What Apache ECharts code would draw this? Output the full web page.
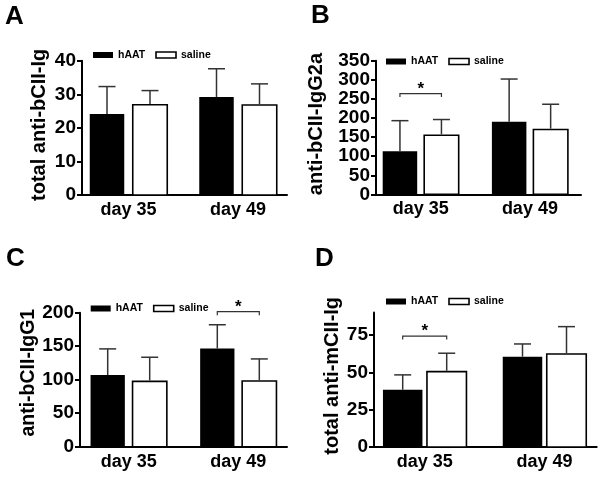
<!DOCTYPE html>
<html>
<head>
<meta charset="utf-8">
<script src="https://cdn.jsdelivr.net/npm/echarts@6/dist/echarts.min.js"></script>
<style>html,body{margin:0;padding:0;background:#fff}#c{width:600px;height:477px}</style>
</head>
<body>
<div id="c"></div>
<script>
// ---------- data ----------
const categories = ['day 35', 'day 49'];
const seriesNames = ['hAAT', 'saline'];
const panelLetters = ['A', 'B', 'C', 'D'];
const yTitles = ['total anti-bCII-Ig', 'anti-bCII-IgG2a', 'anti-bCII-IgG1', 'total anti-mCII-Ig'];

const yTicksA = [0, 10, 20, 30, 40];
const yTicksB = [0, 50, 100, 150, 200, 250, 300, 350];
const yTicksC = [0, 50, 100, 150, 200];
const yTicksD = [0, 25, 50, 75];
const yMax = [40, 350, 200, 90];

const hAAT_A = [24.1, 29.2],  hAAT_A_sd = [8.2, 8.4];
const saline_A = [26.9, 26.8], saline_A_sd = [4.2, 6.3];
const hAAT_B = [113, 190],    hAAT_B_sd = [80, 112];
const saline_B = [155, 170],  saline_B_sd = [41, 66];
const hAAT_C = [107, 146.5],  hAAT_C_sd = [39, 35.5];
const saline_C = [97.5, 98],  saline_C_sd = [36, 33];
const hAAT_D = [38.3, 60.5],  hAAT_D_sd = [10, 8.5];
const saline_D = [50.5, 62.3], saline_D_sd = [12.3, 18.3];

// significance brackets
const sigPanel = [1, 2, 3];            // B, C, D
const sigCategory = ['day 35', 'day 49', 'day 35'];
const sigLevel = [264, 201.5, 74.3];
const sigLabel = ['*', '*', '*'];

// ---------- layout / style ----------
const FONT = 'Liberation Sans, Arial, Helvetica, sans-serif';
const yTicks = [yTicksA, yTicksB, yTicksC, yTicksD];
const means = [[hAAT_A, saline_A], [hAAT_B, saline_B], [hAAT_C, saline_C], [hAAT_D, saline_D]];
const sds = [[hAAT_A_sd, saline_A_sd], [hAAT_B_sd, saline_B_sd], [hAAT_C_sd, saline_C_sd], [hAAT_D_sd, saline_D_sd]];

const panels = [
  {grid: {left: 82, top: 60.7, width: 205, height: 134.3}, xmin: 0.5753, xmax: 2.4475, barW: 34.5, gap: 8.5, capW: 17, nameGap: 33, nameSize: 20, nameShift: 6, legend: {left: 93, top: 49.5}, letter: {left: 5, top: 4}},
  {grid: {left: 376, top: 60.7, width: 205, height: 133.7}, xmin: 0.5907, xmax: 2.468, barW: 34.5, gap: 7, capW: 17, nameGap: 50, nameSize: 20, nameShift: 7, legend: {left: 386, top: 56}, letter: {left: 311, top: 3}},
  {grid: {left: 80, top: 312.7, width: 207, height: 134}, xmin: 0.5557, xmax: 2.4443, barW: 34.3, gap: 7.7, capW: 17, nameGap: 39, nameSize: 19.5, nameShift: 14, legend: {left: 90.7, top: 303}, letter: {left: 6, top: 246}},
  {grid: {left: 374, top: 312.6, width: 222.7, height: 134.4}, xmin: 0.5768, xmax: 2.4357, barW: 39.5, gap: 4.5, capW: 17, nameGap: 29, nameSize: 20, nameShift: 8, legend: {left: 386, top: 296}, letter: {left: 315, top: 246}}
];
const barColors = [{color: '#000'}, {color: '#fff', borderColor: '#000', borderWidth: 1.6}];
const ERR = '#333';

const option = {
  animation: false,
  backgroundColor: '#fff',
  textStyle: {fontFamily: FONT},
  title: panels.map((p, i) => ({
    text: panelLetters[i], left: p.letter.left, top: p.letter.top, padding: 0,
    textStyle: {fontSize: 26, fontWeight: 'bold', color: '#000', fontFamily: FONT}
  })),
  legend: panels.map((p, i) => ({
    left: p.legend.left, top: p.legend.top, padding: 0, itemGap: 10,
    itemWidth: 20, itemHeight: 6, icon: 'rect', selectedMode: false,
    textStyle: {fontSize: 10.5, fontWeight: 'bold', color: '#000', fontFamily: FONT},
    data: seriesNames.map((n, g) => ({name: n, itemStyle: barColors[g]}))
  })),
  grid: panels.map(p => Object.assign({containLabel: false}, p.grid)),
  xAxis: panels.map((p, i) => ({
    type: 'value', gridIndex: i, min: p.xmin, max: p.xmax,
    axisLine: {show: true, lineStyle: {color: '#000', width: 2}},
    axisTick: {show: false}, splitLine: {show: false},
    axisLabel: {
      customValues: categories.map((c, k) => k + 1),
      formatter: v => categories[Math.round(v) - 1] || '',
      fontSize: 18, fontWeight: 'bold', color: '#000', margin: 6, fontFamily: FONT
    }
  })),
  yAxis: panels.map((p, i) => ({
    type: 'value', gridIndex: i, min: 0, max: yMax[i],
    name: yTitles[i], nameLocation: 'middle', nameGap: p.nameGap, nameRotate: 90,
    nameTextStyle: {fontSize: p.nameSize, fontWeight: 'bold', color: '#000', fontFamily: FONT, padding: [0, 0, 0, p.nameShift]},
    axisLine: {show: true, lineStyle: {color: '#000', width: 2}},
    axisTick: {show: true, inside: false, length: 5, lineStyle: {color: '#000', width: 2}, customValues: yTicks[i]},
    axisLabel: {customValues: yTicks[i], fontSize: 19, fontWeight: 'bold', color: '#000', margin: 6, fontFamily: FONT},
    splitLine: {show: false}
  })),
  series: []
};

panels.forEach((p, pi) => {
  [0, 1].forEach(g => {
    const off = (g === 0 ? -1 : 1) * (p.barW + p.gap) / 2;
    option.series.push({
      type: 'custom', name: seriesNames[g], xAxisIndex: pi, yAxisIndex: pi, silent: true, z: 2,
      itemStyle: barColors[g],
      encode: {x: 0, y: 1},
      data: means[pi][g].map((v, k) => [k + 1, v]),
      renderItem: (params, api) => {
        const top = api.coord([api.value(0), api.value(1)]);
        const base = api.coord([api.value(0), 0]);
        const cx = top[0] + off;
        return {type: 'rect', shape: {x: cx - p.barW / 2, y: top[1], width: p.barW, height: base[1] - top[1]}, style: api.style()};
      }
    });
    option.series.push({
      type: 'custom', xAxisIndex: pi, yAxisIndex: pi, silent: true, z: 3,
      encode: {x: 0, y: 1},
      data: means[pi][g].map((v, k) => [k + 1, v, sds[pi][g][k]]),
      renderItem: (params, api) => {
        const x = api.value(0), m = api.value(1), s = api.value(2);
        const a = api.coord([x, m]);
        const b = api.coord([x, m + s]);
        const cx = a[0] + off;
        const ls = {stroke: ERR, lineWidth: 1.5};
        return {type: 'group', children: [
          {type: 'line', shape: {x1: cx, y1: a[1] - (g === 1 ? 0.8 : 0), x2: cx, y2: b[1]}, style: ls},
          {type: 'line', shape: {x1: cx - p.capW / 2, y1: b[1], x2: cx + p.capW / 2, y2: b[1]}, style: ls}
        ]};
      }
    });
  });
});

sigPanel.forEach((pi, k) => {
  const p = panels[pi];
  const off = (p.barW + p.gap) / 2;
  option.series.push({
    type: 'custom', xAxisIndex: pi, yAxisIndex: pi, silent: true, z: 4, clip: false,
    encode: {x: 0, y: 1},
    data: [[categories.indexOf(sigCategory[k]) + 1, sigLevel[k]]],
    renderItem: (params, api) => {
      const a = api.coord([api.value(0), api.value(1)]);
      const x1 = a[0] - off, x2 = a[0] + off, y = a[1];
      const ls = {stroke: ERR, lineWidth: 1.2, fill: null};
      return {type: 'group', children: [
        {type: 'polyline', shape: {points: [[x1, y + 3.5], [x1, y], [x2, y], [x2, y + 3.5]]}, style: ls},
        {type: 'text', x: a[0], y: y + 4, style: {text: sigLabel[k], align: 'center', verticalAlign: 'bottom', fontSize: 17, fontWeight: 'bold', fontFamily: FONT, fill: '#000'}}
      ]};
    }
  });
});

const chart = echarts.init(document.getElementById('c'), null, {renderer: 'canvas'});
chart.setOption(option);
</script>
</body>
</html>
